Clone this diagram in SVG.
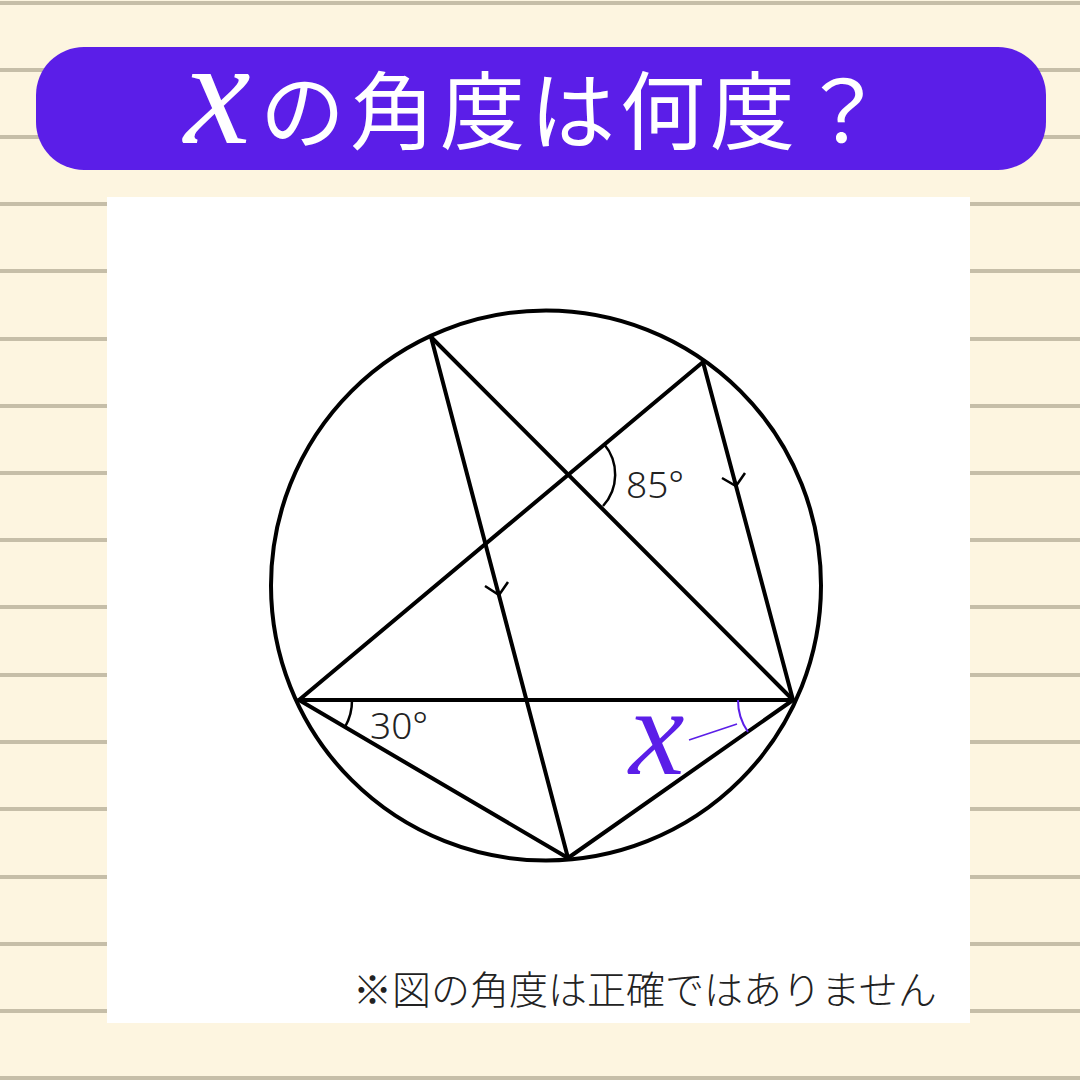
<svg xmlns="http://www.w3.org/2000/svg" width="1080" height="1080" viewBox="0 0 1080 1080">
<defs>
<style>
.stripe{stroke:#c6bea8;stroke-width:4}
.ln{stroke:#000;stroke-width:4;fill:none;stroke-linecap:round}
.arr{stroke:#000;stroke-width:2.5;fill:none}
.lbl{font-family:"Noto Sans","DejaVu Sans",sans-serif;font-weight:300;font-size:37px;fill:#222}
.px{fill:#5b1ee8;font-family:"Liberation Serif","DejaVu Serif",serif;font-style:italic}
</style>
</defs>
<rect width="1080" height="1080" fill="#fdf5e0"/>
<g id="stripes">
<line class="stripe" x1="0" y1="3" x2="1080" y2="3"/>
<line class="stripe" x1="0" y1="70" x2="1080" y2="70"/>
<line class="stripe" x1="0" y1="137" x2="1080" y2="137"/>
<line class="stripe" x1="0" y1="204" x2="1080" y2="204"/>
<line class="stripe" x1="0" y1="271" x2="1080" y2="271"/>
<line class="stripe" x1="0" y1="339" x2="1080" y2="339"/>
<line class="stripe" x1="0" y1="406" x2="1080" y2="406"/>
<line class="stripe" x1="0" y1="473" x2="1080" y2="473"/>
<line class="stripe" x1="0" y1="540" x2="1080" y2="540"/>
<line class="stripe" x1="0" y1="607" x2="1080" y2="607"/>
<line class="stripe" x1="0" y1="675" x2="1080" y2="675"/>
<line class="stripe" x1="0" y1="742" x2="1080" y2="742"/>
<line class="stripe" x1="0" y1="809" x2="1080" y2="809"/>
<line class="stripe" x1="0" y1="877" x2="1080" y2="877"/>
<line class="stripe" x1="0" y1="944" x2="1080" y2="944"/>
<line class="stripe" x1="0" y1="1011" x2="1080" y2="1011"/>
<line class="stripe" x1="0" y1="1078" x2="1080" y2="1078"/>
</g>
<g id="title">
<rect x="36" y="47" width="1010" height="123" rx="48" fill="#5b1ee8"/>
<text x="184" y="143" class="px" style="fill:#fff" font-size="150">x</text>
<text x="260" y="143" fill="#fff" font-family="'Noto Sans CJK JP',sans-serif" font-size="85" letter-spacing="5">の角度は何度？</text>
</g>
<rect id="panel" x="107" y="197" width="863" height="826" fill="#fff"/>
<g id="figure">
<circle class="ln" cx="546" cy="585.5" r="275"/>
</g>
<g id="connectors">
<line class="ln" x1="431" y1="337" x2="568" y2="858"/>
<line class="ln" x1="431" y1="337" x2="793" y2="700"/>
<line class="ln" x1="703" y1="362" x2="299" y2="700"/>
<line class="ln" x1="703" y1="362" x2="793" y2="700"/>
<line class="ln" x1="299" y1="700" x2="793" y2="700"/>
<line class="ln" x1="299" y1="700" x2="568" y2="858"/>
<line class="ln" x1="568" y1="858" x2="793" y2="700"/>
<polyline class="arr" points="485,586 499,595 508,582"/>
<polyline class="arr" points="722,478 736,486 745,473"/>
</g>
<g id="angle85">
<path class="arr" d="M604,444 A47,47 0 0 1 603,506" stroke-width="2"/>
<text class="lbl" x="626" y="498">85°</text>
</g>
<g id="angle30">
<path class="arr" d="M352,700 A53,53 0 0 1 345,727" stroke-width="2"/>
<text class="lbl" x="370" y="739">30°</text>
</g>
<g id="anglex">
<path d="M738,700 A55,55 0 0 0 748,732" fill="none" stroke="#5b1ee8" stroke-width="2"/>
<line x1="689" y1="740" x2="737" y2="724" stroke="#5b1ee8" stroke-width="1.5"/>
<text class="px" x="629" y="774" font-size="125">x</text>
</g>
<text id="note" x="353" y="1004" font-family="'Noto Sans CJK JP',sans-serif" font-size="39" fill="#222" font-weight="300">※図の角度は正確ではありません</text>
</svg>
